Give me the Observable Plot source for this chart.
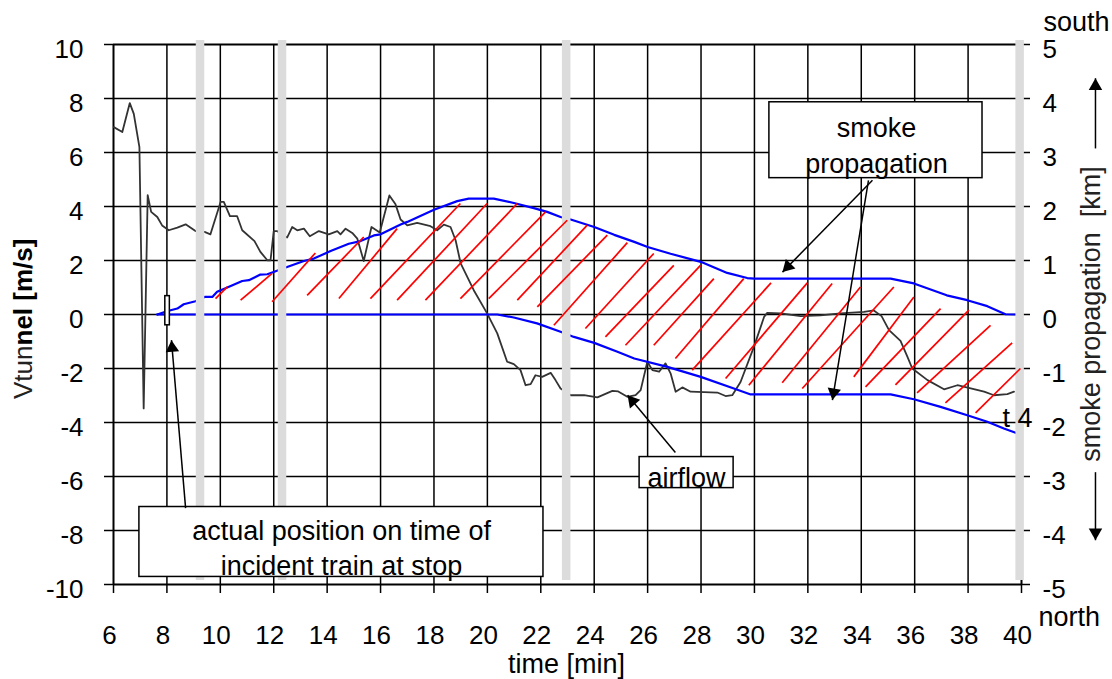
<!DOCTYPE html>
<html><head><meta charset="utf-8">
<script src="https://cdn.jsdelivr.net/npm/d3@7"></script>
<script src="https://cdn.jsdelivr.net/npm/@observablehq/plot@0.6"></script>
<style>html,body{margin:0;padding:0;background:#fff;overflow:hidden}svg{display:block}</style>
</head><body><div id="chart"></div>
<script>
// ---- tick labels ----
const timeTicks = [6,8,10,12,14,16,18,20,22,24,26,28,30,32,34,36,38,40];
const vTicks = [-10,-8,-6,-4,-2,0,2,4,6,8,10];
const kmTicks = [-5,-4,-3,-2,-1,0,1,2,3,4,5];

// ---- airflow in tunnel [m/s] (time, value) ----
const airflow = [[6.01,6.94],[6.33,6.76],[6.61,7.83],[6.76,7.43],[6.97,6.2],[7.13,-3.48],[7.28,4.42],[7.41,3.8],[7.64,3.61],[7.82,3.3],[8.07,3.12],[8.39,3.22],[8.7,3.34],[9.07,3.09],[9.41,3.06],[9.63,2.97],[10.01,4.17],[10.13,4.17],[10.36,3.64],[10.63,3.64],[10.82,3.12],[11.28,2.72],[11.5,2.32],[11.76,2.01],[11.88,2.01],[12.0,3.09],[12.12,3.09],[12.5,2.85],[12.69,3.24],[12.88,3.12],[13.13,3.18],[13.35,2.9],[13.69,3.09],[14.06,2.97],[14.38,3.09],[14.5,2.97],[14.69,3.18],[14.94,3.02],[15.13,2.81],[15.37,1.98],[15.66,3.24],[15.97,3.04],[16.33,4.41],[16.56,4.08],[16.75,3.52],[17.0,3.3],[17.37,3.39],[17.87,3.27],[18.12,3.12],[18.37,3.33],[18.62,3.24],[18.81,2.75],[19.0,1.89],[19.49,0.9],[19.99,0.04],[20.37,-0.7],[20.74,-1.75],[20.99,-1.84],[21.24,-2.06],[21.43,-2.62],[21.62,-2.58],[21.8,-2.25],[22.05,-2.31],[22.37,-2.16],[22.55,-2.43],[22.74,-2.74],[23.12,-2.99],[23.62,-2.99],[24.12,-3.07],[24.68,-2.83],[24.9,-2.85],[25.24,-3.05],[25.55,-2.99],[25.74,-2.8],[25.99,-1.75],[26.18,-2.06],[26.43,-2.12],[26.67,-1.81],[26.86,-2.18],[27.05,-2.86],[27.3,-2.7],[27.61,-2.86],[28.61,-2.89],[28.92,-3.02],[29.17,-2.99],[29.48,-2.5],[29.98,-1.2],[30.36,-0.09],[30.48,0.06],[30.98,0.04],[31.73,-0.06],[32.47,-0.03],[33.22,0.04],[34.1,0.1],[34.47,0.15],[34.76,-0.06],[35.04,-0.58],[35.47,-0.98],[35.73,-1.57],[35.91,-2.0],[36.48,-2.43],[37.1,-2.77],[37.6,-2.62],[38.1,-2.74],[38.6,-2.86],[38.97,-2.99],[39.47,-2.95],[39.72,-2.86]];

// ---- smoke front positions [km] (time, km) ----
const smokeSouth = [[7.64,0],[8.0,0.06],[8.39,0.11],[8.63,0.19],[9.07,0.245],[9.41,0.325],[9.7,0.325],[9.88,0.42],[10.26,0.5],[10.82,0.62],[11.07,0.635],[11.5,0.74],[11.76,0.745],[12.07,0.8],[12.5,0.88],[13.13,0.99],[13.5,1.035],[14.13,1.175],[14.81,1.31],[15.25,1.36],[15.75,1.465],[16.0,1.485],[16.75,1.665],[17.0,1.715],[18.0,1.94],[18.87,2.1],[19.3,2.145],[20.24,2.145],[20.99,2.065],[21.74,1.97],[22.24,1.9],[22.74,1.805],[23.12,1.76],[24.0,1.62],[24.75,1.475],[25.5,1.345],[26.0,1.25],[26.86,1.125],[27.99,0.975],[28.98,0.77],[29.73,0.675],[30.0,0.665],[35.1,0.665],[35.97,0.575],[37.2,0.355],[37.97,0.265],[38.72,0.155],[39.4,0.005],[39.78,0]];
const smokeNorth = [[7.64,0],[20.37,0],[20.99,-0.055],[21.86,-0.165],[22.74,-0.32],[23.24,-0.415],[24.0,-0.525],[24.87,-0.69],[25.5,-0.815],[26.74,-0.97],[27.99,-1.155],[29.23,-1.37],[29.86,-1.48],[35.1,-1.48],[35.97,-1.57],[36.97,-1.71],[37.97,-1.865],[38.72,-1.985],[39.34,-2.11],[39.78,-2.19]];

// ---- hand-drawn hatch strokes (t1, v1, t2, v2 in m/s units) ----
const hatch = [[9.82,0.59,10.26,1.02],[10.76,0.53,11.94,1.52],[11.94,0.47,13.56,2.28],[13.25,0.71,15.37,2.87],[14.44,0.59,16.62,3.18],[15.62,0.59,18.99,4.11],[16.62,0.53,19.99,4.11],[17.68,0.53,21.12,4.11],[18.99,0.59,22.18,3.8],[20.05,0.59,22.99,3.49],[21.12,0.53,23.74,3.31],[21.87,0.28,24.49,2.94],[22.49,-0.4,25.24,2.66],[23.67,-0.52,26.23,2.26],[24.42,-0.83,26.98,1.82],[25.17,-1.14,27.98,1.82],[26.23,-1.14,28.48,1.33],[27.04,-1.63,29.6,1.33],[27.67,-2.06,30.62,1.17],[28.92,-2.37,31.98,1.17],[29.79,-2.62,32.91,1.15],[31.04,-2.53,33.97,1.02],[31.79,-2.74,35.22,1.02],[33.72,-2.31,35.97,0.65],[34.16,-2.68,36.97,0.22],[35.28,-2.61,38.03,0.16],[36.09,-2.9,38.84,-0.4],[37.15,-3.27,39.65,-1.05],[38.28,-3.64,39.96,-2.0]];

// ---- stations (grey bars), times [min] ----
const stations = [9.24, 12.31, 22.95, 39.93];

// ---- annotations ----
const boxes = [
  {x1:30.56, x2:38.54, y1:5.05, y2:7.86},
  {x1:25.70, x2:29.22, y1:-6.43, y2:-5.28},
  {x1:6.97, x2:22.10, y1:-9.72, y2:-7.13}
];
const labels = [
  {t:34.57, v:6.56, text:"smoke"},
  {t:34.57, v:5.23, text:"propagation"},
  {t:27.46, v:-6.39, text:"airflow"},
  {t:14.54, v:-8.36, text:"actual position on time of"},
  {t:14.54, v:-9.65, text:"incident train at stop"}
];
const endLabel = [{t:40.41, v:-4.17, text:"t 4"}];
const arrows = [
  {x1:34.42, y1:4.97, x2:31.05, y2:1.57},
  {x1:34.27, y1:4.97, x2:32.92, y2:-3.17},
  {x1:27.04, y1:-5.11, x2:25.25, y2:-2.99},
  {x1:8.70, y1:-7.17, x2:8.17, y2:-0.95},
  {x1:42.77, y1:6.15, x2:42.77, y2:8.75},
  {x1:42.77, y1:-5.84, x2:42.77, y2:-8.36}
];
const trainMarker = [{x1:7.94, x2:8.11, y1:-0.4, y2:0.68}];

// ---- layout ----
const W = 1112, H = 679, ML = 113, MR = 91, MT = 44, MB = 95;
const pxPerMin = (W - ML - MR) / 34, pxPerUnit = (H - MT - MB) / 20;
const HEAD_R = 5;
const tipOff = 2 * HEAD_R * Math.sqrt(Math.PI / (3 * Math.sqrt(3)));
const heads = arrows.map(a => {
  const dx = (a.x2 - a.x1) * pxPerMin, dy = -(a.y2 - a.y1) * pxPerUnit;
  const L = Math.hypot(dx, dy);
  return {x: a.x2 - dx / L * tipOff / pxPerMin, y: a.y2 + dy / L * tipOff / pxPerUnit,
          rotate: Math.atan2(dx, -dy) * 180 / Math.PI};
});

const FONT = "'Liberation Sans', Arial, sans-serif";
const inner = timeTicks.filter(t => t > 6 && t < 40);
const innerV = vTicks.filter(v => v > -10 && v < 10);

const plot = Plot.plot({
  width: W, height: H,
  marginLeft: ML, marginRight: MR, marginTop: MT, marginBottom: MB,
  x: {domain: [6, 40], axis: null},
  y: {domain: [-10, 10], axis: null},
  style: {fontFamily: FONT, fontSize: "26px", color: "black", background: "white", overflow: "visible"},
  marks: [
    Plot.ruleX(inner, {stroke: "black", strokeWidth: 1.5}),
    Plot.ruleY(innerV, {stroke: "black", strokeWidth: 1.5}),
    Plot.axisX(timeTicks, {anchor: "bottom", tickSize: 9, tickFormat: () => "", label: null, strokeWidth: 1.5, stroke: "black"}),
    Plot.axisY(vTicks, {anchor: "left", tickSize: 9, tickFormat: () => "", label: null, strokeWidth: 1.5, stroke: "black"}),
    Plot.axisY(vTicks, {anchor: "right", tickSize: 8, tickFormat: () => "", label: null, strokeWidth: 1.5, stroke: "black"}),
    Plot.ruleX([6, 40], {stroke: "black", strokeWidth: 2}),
    Plot.ruleY([-10, 10], {stroke: "black", strokeWidth: 2}),
    Plot.line(airflow, {x: d => d[0], y: d => d[1], stroke: "#333333", strokeWidth: 1.8}),
    Plot.line(smokeSouth, {x: d => d[0], y: d => d[1] * 2, stroke: "#0000ff", strokeWidth: 2.2}),
    Plot.line(smokeNorth, {x: d => d[0], y: d => d[1] * 2, stroke: "#0000ff", strokeWidth: 2.2}),
    Plot.ruleX(stations, {y1: -9.85, y2: 10.15, stroke: "#dcdcdc", strokeWidth: 8.5}),
    Plot.link(hatch, {x1: d => d[0], y1: d => d[1], x2: d => d[2], y2: d => d[3], stroke: "#ff0000", strokeWidth: 1.7}),
    Plot.rect(boxes, {x1: "x1", x2: "x2", y1: "y1", y2: "y2", fill: "white", stroke: "black", strokeWidth: 1.5}),
    Plot.rect(trainMarker, {x1: "x1", x2: "x2", y1: "y1", y2: "y2", fill: "white", stroke: "black", strokeWidth: 1.5}),
    Plot.text(labels, {x: "t", y: "v", text: "text", lineAnchor: "bottom", textAnchor: "middle", fontSize: 27, fill: "black"}),
    Plot.text(endLabel, {x: "t", y: "v", text: "text", lineAnchor: "bottom", textAnchor: "end", fontSize: 27, fill: "black"}),
    Plot.link(arrows, {x1: "x1", y1: "y1", x2: "x2", y2: "y2", stroke: "black", strokeWidth: 1.5}),
    Plot.dot(heads, {x: "x", y: "y", rotate: "rotate", symbol: "triangle", r: HEAD_R, fill: "black", stroke: "none"}),
    // tick labels
    Plot.text(timeTicks, {x: d => d, text: d => String(d), frameAnchor: "bottom", lineAnchor: "top", textAnchor: "middle", dy: 41, dx: -4, fontSize: 26, fill: "black"}),
    Plot.text(vTicks, {y: d => d, text: d => String(d), frameAnchor: "left", textAnchor: "end", dx: -30, dy: 5, fontSize: 26, fill: "black"}),
    Plot.text(vTicks, {y: d => d, text: (d, i) => String(kmTicks[i]), frameAnchor: "right", textAnchor: "start", dx: 21, dy: 5, fontSize: 26, fill: "black"}),
    // axis titles
    Plot.text(["time [min]"], {frameAnchor: "bottom", lineAnchor: "bottom", textAnchor: "middle", dy: 88, dx: -1, fontSize: 27, fill: "black"}),
    Plot.text(["south"], {frameAnchor: "top-right", textAnchor: "start", lineAnchor: "bottom", dx: 22, dy: -14, fontSize: 27, fill: "black"}),
    Plot.text(["north"], {frameAnchor: "bottom-right", textAnchor: "start", lineAnchor: "bottom", dx: 17, dy: 41, fontSize: 27, fill: "black"}),
    Plot.text(["Vtun"], {frameAnchor: "left", rotate: -90, textAnchor: "end", lineAnchor: "bottom", dx: -82, dy: 31, fontSize: 26, fill: "#222"}),
    Plot.text(["nel [m/s]"], {frameAnchor: "left", rotate: -90, textAnchor: "start", lineAnchor: "bottom", dx: -82, dy: 31, fontSize: 26, fontWeight: "bold", fill: "black"}),
    Plot.text(["smoke propagation\u00a0 [km]"], {frameAnchor: "right", rotate: -90, textAnchor: "middle", lineAnchor: "bottom", dx: 78, dy: -0.5, fontSize: 27, fill: "#222"})
  ]
});
document.getElementById("chart").append(plot);
</script>
</body></html>
